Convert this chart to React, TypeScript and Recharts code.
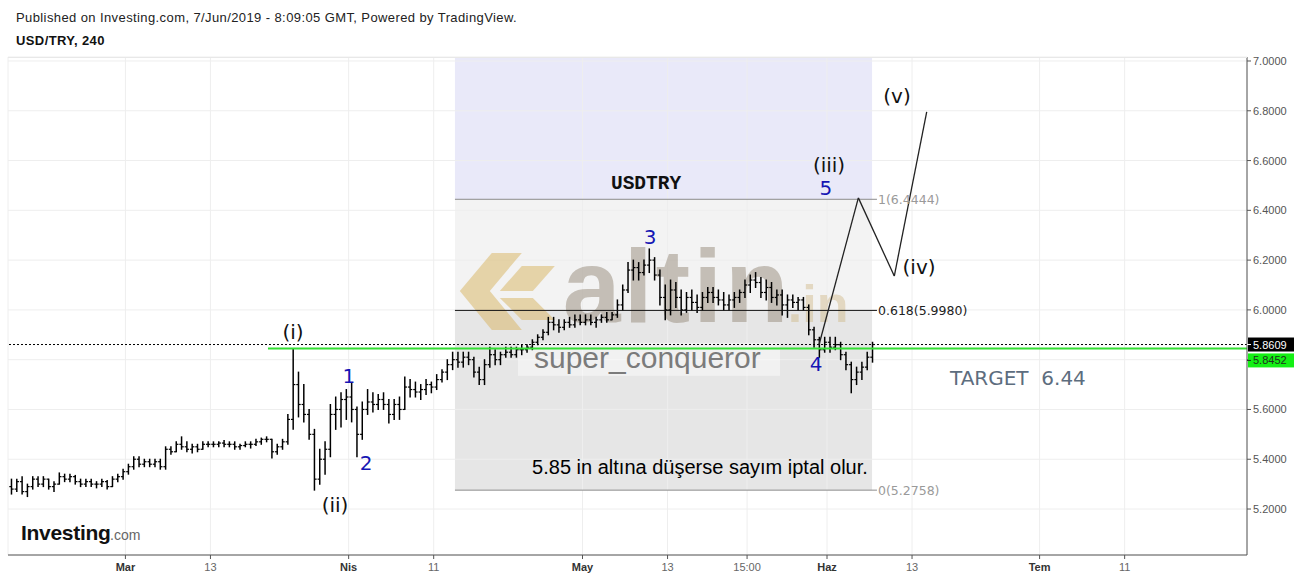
import React from 'react';
import {
  ComposedChart,
  Bar,
  XAxis,
  YAxis,
  CartesianGrid,
  ReferenceArea,
  ReferenceLine,
  ReferenceDot,
} from 'recharts';

// ---------------------------------------------------------------------------
// USD/TRY, 12-hour OHLC bars: [open, high, low, close], two bars per trading day.
// Trading-day index: 1 Mar 2019 = 0 (weekends skipped), first bar on 14 Feb = -11.
// ---------------------------------------------------------------------------
const firstDay = -11;

const febBars = [
  [5.29, 5.32, 5.26, 5.28], [5.28, 5.32, 5.27, 5.31],
  [5.31, 5.33, 5.26, 5.27], [5.27, 5.30, 5.25, 5.29],
  [5.29, 5.33, 5.28, 5.32], [5.32, 5.33, 5.29, 5.30],
  [5.30, 5.33, 5.29, 5.32], [5.32, 5.32, 5.28, 5.29],
  [5.29, 5.31, 5.27, 5.30], [5.30, 5.345, 5.30, 5.33],
  [5.33, 5.34, 5.31, 5.32], [5.32, 5.34, 5.31, 5.33],
  [5.33, 5.335, 5.30, 5.31], [5.31, 5.32, 5.29, 5.30],
  [5.30, 5.32, 5.29, 5.31], [5.31, 5.32, 5.29, 5.30],
  [5.30, 5.31, 5.285, 5.30], [5.30, 5.32, 5.29, 5.31],
  [5.31, 5.315, 5.28, 5.29], [5.29, 5.33, 5.29, 5.32],
  [5.32, 5.34, 5.31, 5.33], [5.33, 5.36, 5.32, 5.35],
];

const marBars = [
  [5.35, 5.38, 5.34, 5.37], [5.37, 5.41, 5.36, 5.40],
  [5.40, 5.41, 5.37, 5.38], [5.38, 5.40, 5.37, 5.39],
  [5.39, 5.40, 5.37, 5.38], [5.38, 5.40, 5.37, 5.39],
  [5.39, 5.40, 5.36, 5.37], [5.37, 5.45, 5.36, 5.44],
  [5.44, 5.45, 5.42, 5.43], [5.43, 5.47, 5.43, 5.46],
  [5.46, 5.49, 5.44, 5.45], [5.45, 5.47, 5.43, 5.44],
  [5.44, 5.46, 5.425, 5.45], [5.45, 5.46, 5.43, 5.44],
  [5.44, 5.47, 5.44, 5.46], [5.46, 5.47, 5.45, 5.46],
  [5.46, 5.47, 5.45, 5.46], [5.46, 5.47, 5.45, 5.465],
  [5.465, 5.475, 5.45, 5.46], [5.46, 5.47, 5.45, 5.46],
  [5.46, 5.47, 5.44, 5.45], [5.45, 5.46, 5.44, 5.455],
  [5.455, 5.47, 5.45, 5.46], [5.46, 5.47, 5.445, 5.46],
  [5.46, 5.48, 5.455, 5.47], [5.47, 5.485, 5.46, 5.48],
  [5.48, 5.49, 5.47, 5.48], [5.48, 5.48, 5.405, 5.43],
  [5.43, 5.46, 5.42, 5.45], [5.45, 5.48, 5.44, 5.47],
  [5.47, 5.58, 5.46, 5.56], [5.56, 5.8452, 5.52, 5.70],
  [5.70, 5.75, 5.57, 5.62], [5.62, 5.70, 5.55, 5.58],
  [5.58, 5.60, 5.48, 5.50], [5.50, 5.52, 5.2758, 5.32],
  [5.32, 5.44, 5.30, 5.40], [5.40, 5.47, 5.34, 5.44],
  [5.44, 5.62, 5.41, 5.58], [5.58, 5.65, 5.52, 5.60],
  [5.60, 5.667, 5.53, 5.64], [5.64, 5.68, 5.56, 5.65],
];

const aprBars = [
  [5.65, 5.707, 5.55, 5.60], [5.60, 5.61, 5.41, 5.50],
  [5.50, 5.63, 5.48, 5.60], [5.60, 5.68, 5.58, 5.63],
  [5.63, 5.667, 5.59, 5.62], [5.62, 5.66, 5.60, 5.64],
  [5.64, 5.667, 5.60, 5.62], [5.62, 5.64, 5.546, 5.58],
  [5.58, 5.64, 5.56, 5.62], [5.62, 5.65, 5.56, 5.60],
  [5.60, 5.73, 5.60, 5.69], [5.69, 5.72, 5.65, 5.68],
  [5.68, 5.71, 5.65, 5.67], [5.67, 5.70, 5.64, 5.68],
  [5.68, 5.72, 5.66, 5.70], [5.70, 5.71, 5.667, 5.69],
  [5.69, 5.74, 5.68, 5.72], [5.72, 5.76, 5.71, 5.75],
  [5.75, 5.80, 5.72, 5.78], [5.78, 5.83, 5.76, 5.80],
  [5.80, 5.83, 5.77, 5.79], [5.79, 5.83, 5.77, 5.81],
  [5.81, 5.83, 5.78, 5.80], [5.80, 5.81, 5.73, 5.75],
  [5.75, 5.77, 5.70, 5.72], [5.72, 5.80, 5.70, 5.78],
  [5.78, 5.85, 5.77, 5.82], [5.82, 5.84, 5.78, 5.80],
  [5.80, 5.83, 5.78, 5.82], [5.82, 5.85, 5.81, 5.83],
  [5.83, 5.85, 5.81, 5.82], [5.82, 5.85, 5.81, 5.84],
  [5.84, 5.86, 5.82, 5.84], [5.84, 5.86, 5.83, 5.85],
  [5.85, 5.88, 5.84, 5.87], [5.87, 5.90, 5.86, 5.89],
  [5.89, 5.92, 5.88, 5.91], [5.91, 5.97, 5.90, 5.95],
  [5.95, 5.97, 5.92, 5.94], [5.94, 5.96, 5.91, 5.93],
  [5.93, 5.96, 5.92, 5.95], [5.95, 5.97, 5.93, 5.94],
  [5.94, 5.98, 5.93, 5.96], [5.96, 5.98, 5.94, 5.95],
];

const mayBars = [
  [5.95, 5.98, 5.94, 5.96], [5.96, 5.98, 5.94, 5.95],
  [5.95, 5.97, 5.93, 5.96], [5.96, 5.98, 5.95, 5.97],
  [5.97, 5.99, 5.95, 5.96], [5.96, 5.99, 5.96, 5.98],
  [5.98, 6.04, 5.97, 6.02], [6.02, 6.10, 6.00, 6.08],
  [6.08, 6.19, 6.07, 6.16], [6.16, 6.20, 6.12, 6.17],
  [6.17, 6.19, 6.12, 6.15], [6.15, 6.20, 6.14, 6.18],
  [6.18, 6.245, 6.15, 6.20], [6.20, 6.21, 6.12, 6.14],
  [6.14, 6.16, 6.02, 6.05], [6.05, 6.10, 5.96, 6.00],
  [6.00, 6.12, 5.98, 6.08], [6.08, 6.11, 6.01, 6.05],
  [6.05, 6.08, 5.98, 6.00], [6.00, 6.07, 5.99, 6.05],
  [6.05, 6.08, 6.00, 6.03], [6.03, 6.06, 5.99, 6.01],
  [6.01, 6.07, 6.00, 6.05], [6.05, 6.09, 6.03, 6.07],
  [6.07, 6.09, 6.03, 6.05], [6.05, 6.08, 6.02, 6.04],
  [6.04, 6.07, 6.00, 6.02], [6.02, 6.06, 6.00, 6.04],
  [6.04, 6.07, 6.01, 6.05], [6.05, 6.08, 6.03, 6.07],
  [6.07, 6.12, 6.05, 6.10], [6.10, 6.14, 6.07, 6.12],
  [6.12, 6.15, 6.09, 6.11], [6.11, 6.13, 6.05, 6.07],
  [6.07, 6.12, 6.04, 6.09], [6.09, 6.11, 6.03, 6.05],
  [6.05, 6.08, 6.02, 6.06], [6.06, 6.08, 5.98, 6.02],
  [6.02, 6.06, 5.97, 6.04], [6.04, 6.06, 6.01, 6.03],
  [6.03, 6.05, 6.00, 6.04], [6.04, 6.05, 6.00, 6.01],
  [6.01, 6.02, 5.90, 5.92], [5.92, 5.93, 5.85, 5.88],
  [5.88, 5.89, 5.81, 5.84], [5.84, 5.89, 5.83, 5.87],
];

const junBars = [
  [5.87, 5.89, 5.83, 5.85], [5.85, 5.89, 5.84, 5.86],
  [5.86, 5.87, 5.80, 5.82], [5.82, 5.83, 5.76, 5.78],
  [5.78, 5.79, 5.667, 5.72], [5.72, 5.77, 5.70, 5.75],
  [5.75, 5.79, 5.72, 5.77], [5.77, 5.83, 5.76, 5.81],
  [5.81, 5.87, 5.79, 5.8609],
];

// Time axis
const tickDays = [0, 8, 21, 29, 43, 51, 58.48, 66, 74, 86, 94];
const tickLabels = ['Mar', '13', 'Nis', '11', 'May', '13', '15:00', 'Haz', '13', 'Tem', '11'];
const monthLabels = ['Mar', 'Nis', 'May', 'Haz', 'Tem'];

// Price axis
const priceTicks = [5.2, 5.4, 5.6, 5.8, 6.0, 6.2, 6.4, 6.6, 6.8, 7.0];

// Fibonacci retracement drawn from the (ii) low to the 1.0 level
const fibStart = 31.0;
const fibEnd = 70.24;
const fibLevels = [
  { name: '1', value: 6.4444, line: '#8c8c8c', text: '#9a9a9a' },
  { name: '0.618', value: 5.998, line: '#111111', text: '#222222' },
  { name: '0', value: 5.2758, line: '#8c8c8c', text: '#9a9a9a' },
];

// Wave (i) high, used as the invalidation level
const supportLevel = 5.8452;
const supportFrom = 13.41;

// Projected path 4 -> 5/(iii) -> (iv) -> (v)
const projection = [
  { x: 65.25, y: 5.86 },
  { x: 68.95, y: 6.45 },
  { x: 72.33, y: 6.136 },
  { x: 75.38, y: 6.796 },
];

const BLUE = '#1616b4';
const waveLabels = [
  { text: '(i)', x: 15.77, y: 5.912, color: '#111' },
  { text: '(ii)', x: 19.72, y: 5.217, color: '#111' },
  { text: '1', x: 21.03, y: 5.735, color: BLUE },
  { text: '2', x: 22.64, y: 5.386, color: BLUE },
  { text: '3', x: 49.35, y: 6.291, color: BLUE },
  { text: '4', x: 64.97, y: 5.783, color: BLUE },
  { text: '5', x: 65.9, y: 6.49, color: BLUE },
  { text: '(iii)', x: 66.19, y: 6.584, color: '#111' },
  { text: '(iv)', x: 74.66, y: 6.173, color: '#111' },
  { text: '(v)', x: 72.59, y: 6.859, color: '#111' },
];

const X_DOMAIN: [number, number] = [-11.045, 105.51];
const Y_DOMAIN: [number, number] = [5.01526, 7.01606];

const SANS = "'Liberation Sans', Arial, Helvetica, sans-serif";
const DEJAVU = "'DejaVu Sans', Verdana, sans-serif";

const allBars = [...febBars, ...marBars, ...aprBars, ...mayBars, ...junBars];
const bars = allBars.map(([o, h, l, c], i) => ({
  x: firstDay + 0.25 + 0.5 * i,
  range: [l, h],
  o,
  h,
  l,
  c,
}));
const lastClose = junBars[junBars.length - 1][3];

// OHLC bar: high-low stick with open tick on the left and close tick on the right
const OhlcBar = (props: any) => {
  const { x, y, width, height, payload } = props;
  if (x == null || y == null) return null;
  const top = Math.min(y, y + height);
  const bottom = Math.max(y, y + height);
  const cx = x + width / 2;
  const span = payload.h - payload.l || 1;
  const py = (v: number) => top + ((payload.h - v) / span) * (bottom - top);
  return (
    <g>
      <line x1={cx} x2={cx} y1={top - 0.5} y2={bottom + 0.5} stroke="#000" strokeWidth={1.5} />
      <line x1={cx - 2.2} x2={cx} y1={py(payload.o)} y2={py(payload.o)} stroke="#000" strokeWidth={1.2} />
      <line x1={cx} x2={cx + 2.2} y1={py(payload.c)} y2={py(payload.c)} stroke="#000" strokeWidth={1.2} />
    </g>
  );
};

const DateTick = (props: any) => {
  const { x, y, payload } = props;
  const idx = tickDays.indexOf(payload.value);
  const label = idx >= 0 ? tickLabels[idx] : '';
  const isMonth = monthLabels.includes(label);
  return (
    <text
      x={x}
      y={y + 10}
      textAnchor="middle"
      fontFamily={SANS}
      fontSize={11}
      fontWeight={isMonth ? 'bold' : 'normal'}
      fill={isMonth ? '#333' : '#666'}
    >
      {label}
    </text>
  );
};

const PriceTick = (props: any) => {
  const { x, y, payload } = props;
  return (
    <text x={x} y={y + 4} textAnchor="start" fontFamily={SANS} fontSize={11} fill="#555">
      {Number(payload.value).toFixed(4)}
    </text>
  );
};

// Text drawn at a data point
const textShape =
  (text: string, style: Record<string, any>) =>
  (p: any) =>
    (
      <text x={p.cx} y={p.cy} {...style}>
        {text}
      </text>
    );

// Brand watermark anchored to a price/time box
const Watermark = (p: any) => {
  const L = p.x;
  const T = p.y;
  const pts = (arr: number[][]) => arr.map(([a, b]) => `${L + a},${T + b}`).join(' ');
  return (
    <g>
      <g fill="#d9b460" opacity={0.5}>
        <polygon points={pts([[0, 43], [32, 5], [62, 5], [30, 43], [62, 82], [32, 82]])} />
        <polygon points={pts([[40, 43], [62, 18], [95, 18], [73, 43]])} />
        <polygon points={pts([[40, 50], [73, 50], [95, 72], [62, 72]])} />
      </g>
      <text
        x={L + 103}
        y={T + 74}
        fontFamily={SANS}
        fontWeight="bold"
        fontSize={104}
        letterSpacing={3}
        fill="#978b7b"
        opacity={0.5}
      >
        altin
      </text>
      <text x={L + 328} y={T + 74} fontFamily={SANS} fontWeight="bold" fontSize={52} fill="#cdb27a" opacity={0.4}>
        .in
      </text>
    </g>
  );
};

const AuthorBox = (p: any) => (
  <g>
    <rect x={p.x} y={p.y} width={p.width} height={p.height} fill="#ffffff" opacity={0.45} />
    <text x={p.x + 16} y={p.y + 25} fontFamily={SANS} fontSize={30} fill="#7b7b7b">
      super_conqueror
    </text>
  </g>
);

const priceTag = (value: number, bg: string, fg: string, shift: number) => (p: any) =>
  (
    <g>
      <rect x={p.cx + 1} y={p.cy - 7 + shift} width={46} height={14} fill={bg} />
      <line x1={p.cx} x2={p.cx + 4} y1={p.cy + shift} y2={p.cy + shift} stroke={fg} strokeWidth={1} />
      <text x={p.cx + 6} y={p.cy + 4 + shift} fontFamily={SANS} fontSize={11} fill={fg}>
        {value.toFixed(4)}
      </text>
    </g>
  );

export default function App() {
  return (
    <div style={{ position: 'absolute', left: 0, top: 0, width: 1299, height: 580, background: '#fff' }}>
      <ComposedChart width={1299} height={580} data={bars} margin={{ top: 57, right: 0, bottom: 0, left: 8 }}>
        {/* Fibonacci zones */}
        <ReferenceArea
          x1={fibStart}
          x2={fibEnd}
          y1={fibLevels[0].value}
          y2={Y_DOMAIN[1]}
          fill="#e9e9f9"
          fillOpacity={1}
          stroke="none"
          ifOverflow="hidden"
          zIndex={-150}
        />
        <ReferenceArea
          x1={fibStart}
          x2={fibEnd}
          y1={fibLevels[1].value}
          y2={fibLevels[0].value}
          fill="#f3f3f3"
          fillOpacity={1}
          stroke="none"
          zIndex={-150}
        />
        <ReferenceArea
          x1={fibStart}
          x2={fibEnd}
          y1={fibLevels[2].value}
          y2={fibLevels[1].value}
          fill="#e6e6e6"
          fillOpacity={1}
          stroke="none"
          zIndex={-150}
        />

        <CartesianGrid stroke="#eeeeee" strokeWidth={1} />

        <XAxis
          dataKey="x"
          type="number"
          domain={X_DOMAIN}
          allowDataOverflow
          ticks={tickDays}
          interval={0}
          height={25}
          tick={<DateTick />}
          tickSize={4}
          axisLine={{ stroke: '#555' }}
          tickLine={{ stroke: '#555' }}
        />
        <YAxis
          orientation="right"
          type="number"
          domain={Y_DOMAIN}
          allowDataOverflow
          ticks={priceTicks}
          interval={0}
          width={52}
          tick={<PriceTick />}
          tickSize={4}
          axisLine={{ stroke: '#555' }}
          tickLine={{ stroke: '#555' }}
        />

        {/* Watermarks */}
        <ReferenceArea
          x1={31.46}
          x2={67.69}
          y1={5.8996}
          y2={6.249}
          shape={<Watermark />}
          zIndex={-50}
        />
        <ReferenceArea x1={36.93} x2={61.58} y1={5.735} y2={5.8675} shape={<AuthorBox />} zIndex={-40} />

        <Bar dataKey="range" barSize={2} shape={<OhlcBar />} isAnimationActive={false} />

        {/* Fibonacci level lines */}
        {fibLevels.map((f) => (
          <ReferenceLine
            key={f.name}
            segment={[
              { x: fibStart, y: f.value },
              { x: 70.7, y: f.value },
            ]}
            stroke={f.line}
            strokeWidth={1}
          />
        ))}

        {/* Last price and wave (i) high */}
        <ReferenceLine y={lastClose} stroke="#000" strokeDasharray="2 2" strokeWidth={1} />
        <ReferenceLine
          segment={[
            { x: supportFrom, y: supportLevel },
            { x: X_DOMAIN[1], y: supportLevel },
          ]}
          stroke="#33e033"
          strokeWidth={2}
        />

        {/* Projected wave path */}
        {projection.slice(1).map((pt, i) => (
          <ReferenceLine
            key={`proj-${i}`}
            segment={[
              { x: projection[i].x, y: projection[i].y },
              { x: pt.x, y: pt.y },
            ]}
            stroke="#222"
            strokeWidth={1.3}
          />
        ))}

        {fibLevels.map((f) => (
          <ReferenceDot
            key={`fl-${f.name}`}
            x={70.8}
            y={f.value}
            r={1}
            ifOverflow="visible"
            shape={textShape(`${f.name}(${f.value.toFixed(4)})`, {
              fontFamily: DEJAVU,
              fontSize: 12.5,
              fill: f.text,
              dominantBaseline: 'central',
            })}
          />
        ))}

        {waveLabels.map((w) => (
          <ReferenceDot
            key={`w-${w.text}`}
            x={w.x}
            y={w.y}
            r={1}
            ifOverflow="visible"
            shape={textShape(w.text, {
              fontFamily: DEJAVU,
              fontSize: 20,
              fill: w.color,
              textAnchor: 'middle',
              dominantBaseline: 'central',
            })}
          />
        ))}

        <ReferenceDot
          x={48.98}
          y={6.486}
          r={1}
          ifOverflow="visible"
          shape={textShape('USDTRY', {
            fontFamily: "'Liberation Mono', 'DejaVu Sans Mono', monospace",
            fontWeight: 'bold',
            fontSize: 19.5,
            fill: '#111',
            textAnchor: 'middle',
          })}
        />
        <ReferenceDot
          x={54.05}
          y={5.3414}
          r={1}
          ifOverflow="visible"
          shape={textShape('5.85 in altına düşerse sayım iptal olur.', {
            fontFamily: SANS,
            fontSize: 20,
            fill: '#000',
            textAnchor: 'middle',
          })}
        />
        <ReferenceDot
          x={77.57}
          y={5.6976}
          r={1}
          ifOverflow="visible"
          shape={textShape('TARGET\u00a0\u00a06.44', {
            fontFamily: DEJAVU,
            fontSize: 20,
            fill: '#5d6d7e',
          })}
        />

        {/* Axis price tags */}
        <ReferenceDot
          x={X_DOMAIN[1]}
          y={lastClose}
          r={1}
          ifOverflow="visible"
          zIndex={2500}
          shape={priceTag(lastClose, '#000', '#fff', 0)}
        />
        <ReferenceDot
          x={X_DOMAIN[1]}
          y={supportLevel}
          r={1}
          ifOverflow="visible"
          zIndex={2500}
          shape={priceTag(supportLevel, '#14f014', '#1f2f1f', 12)}
        />
      </ComposedChart>

      <svg
        width={1299}
        height={580}
        style={{ position: 'absolute', left: 0, top: 0, pointerEvents: 'none' }}
      >
        <line x1={8} x2={1247} y1={57.5} y2={57.5} stroke="#e8e8e8" />
        <text x={16} y={22} fontFamily={SANS} fontSize={13} letterSpacing={0.4} fill="#222">
          Published on Investing.com, 7/Jun/2019 - 8:09:05 GMT, Powered by TradingView.
        </text>
        <text x={16} y={45} fontFamily={SANS} fontSize={13} letterSpacing={0.4} fontWeight="bold" fill="#111">
          USD/TRY, 240
        </text>
        <text x={21} y={540} fontFamily={SANS} fontSize={21} fontWeight="bold" fill="#111" letterSpacing={-0.3}>
          Investing
        </text>
        <text x={110} y={540} fontFamily={SANS} fontSize={14} fill="#666">
          .com
        </text>
      </svg>
    </div>
  );
}
